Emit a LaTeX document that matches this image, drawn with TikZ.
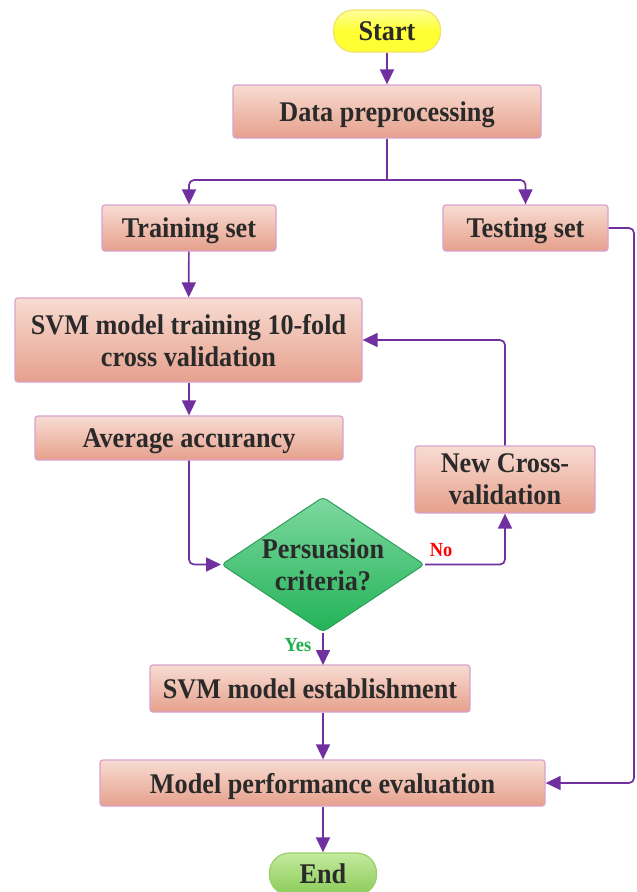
\documentclass[tikz,border=0pt]{standalone}
\usepackage{fontspec}
\setmainfont{Liberation Serif}[FakeStretch=0.92]
\usetikzlibrary{shapes.geometric,arrows.meta}
\definecolor{arr}{HTML}{7030A0}
\definecolor{boxedge}{HTML}{D9A2CF}
\definecolor{boxtop}{HTML}{F8DCD2}
\definecolor{boxmid}{HTML}{EDB3A2}
\definecolor{boxbot}{HTML}{E6A08C}
\definecolor{txt}{HTML}{2A2A2A}
\definecolor{yel}{HTML}{FFFF33}
\definecolor{yeltop}{HTML}{FFFF9A}
\definecolor{yeledge}{HTML}{F2E36A}
\definecolor{grn}{HTML}{22B357}
\definecolor{grntop}{HTML}{7ED8A0}
\definecolor{grnmid}{HTML}{3CC272}
\definecolor{grnedge}{HTML}{2E9E5B}
\definecolor{lgtop}{HTML}{C4EA9E}
\definecolor{lgbot}{HTML}{8ACB58}
\definecolor{lgedge}{HTML}{9CD06C}
\definecolor{yescol}{HTML}{1DB04D}
\tikzset{
  x=1pt, y=-1pt,
  lbl/.style={font=\fontsize{28.5}{32}\selectfont\bfseries, text=txt, align=center, text depth=0pt},
  proc/.style={lbl, rectangle, rounded corners=3pt, draw=boxedge, line width=1.3pt,
    top color=boxtop, middle color=boxmid, bottom color=boxbot, inner sep=0pt},
  term/.style={lbl, rectangle, rounded corners=20pt, line width=1.3pt, inner sep=0pt,
    minimum width=107pt, minimum height=42pt},
  dia/.style={diamond, draw=grnedge, line width=1pt, top color=grntop, middle color=grnmid, bottom color=grn,
    inner sep=0pt, minimum width=203pt, minimum height=135pt, rounded corners=4pt},
  conn/.style={draw=arr, line width=1.7pt, rounded corners=5pt},
  arrow/.style={conn, -{Triangle[length=15pt,width=14pt]}},
  small/.style={font=\fontsize{20}{22}\selectfont\bfseries}
}
\begin{document}
\begin{tikzpicture}
\useasboundingbox (0,0) rectangle (637,892);
\fill[white] (0,0) rectangle (637,892);

\node[term, draw=yeledge, top color=yeltop, bottom color=yel, middle color=yel] (start) at (387,31) {Start};
\node[proc, minimum width=308pt, minimum height=53pt] (prep) at (387,111.5) {Data preprocessing};
\node[proc, minimum width=174pt, minimum height=46pt] (train) at (189,228) {Training set};
\node[proc, minimum width=165pt, minimum height=46pt] (test) at (525.5,228) {Testing set};
\node[proc, minimum width=347pt, minimum height=84pt] (svm) at (188.5,340) {SVM model training 10-fold\\cross validation};
\node[proc, minimum width=308pt, minimum height=44pt] (avg) at (189,438) {Average accurancy};
\node[proc, minimum width=180pt, minimum height=67pt] (newcv) at (505,479.5) {New Cross-\\validation};
\node[dia] (crit) at (323,564.5) {};
\node[lbl] (crittext) at (323,564.5) {Persuasion\\criteria?};
\node[proc, minimum width=320pt, minimum height=47pt] (est) at (310,688.5) {SVM model establishment};
\node[proc, minimum width=445pt, minimum height=46pt] (perf) at (322.5,783) {Model performance evaluation};
\node[term, draw=lgedge, top color=lgtop, bottom color=lgbot] (end) at (323,874) {End};

\node[small, text=red] (nolbl) at (441,550) {No};
\node[small, text=yescol] (yeslbl) at (298,645) {Yes};

\coordinate (split) at (387,180);
\coordinate (rside) at (634,228);
\coordinate (yesx) at (323,665);

\draw[arrow] (start) -- (prep);
\draw[conn] (prep.south) -- (split);
\draw[arrow] (split) -| (train.north);
\draw[arrow] (split) -| (test.north);
\draw[arrow] (train) -- (svm);
\draw[arrow] (svm.south -| avg.north) -- (avg.north);
\draw[arrow] (avg.south) |- (crit.west);
\draw[arrow] (crit.east) -| (newcv.south);
\draw[arrow] (newcv.north) |- (svm.east);
\draw[arrow] (crit.south) -- (yesx);
\draw[arrow] (est.south -| yesx) -- (perf.north -| yesx);
\draw[arrow] (perf.south -| yesx) -- (end.north -| yesx);
\draw[arrow] (test.east) -- (rside) |- (perf.east);
\end{tikzpicture}
\end{document}
